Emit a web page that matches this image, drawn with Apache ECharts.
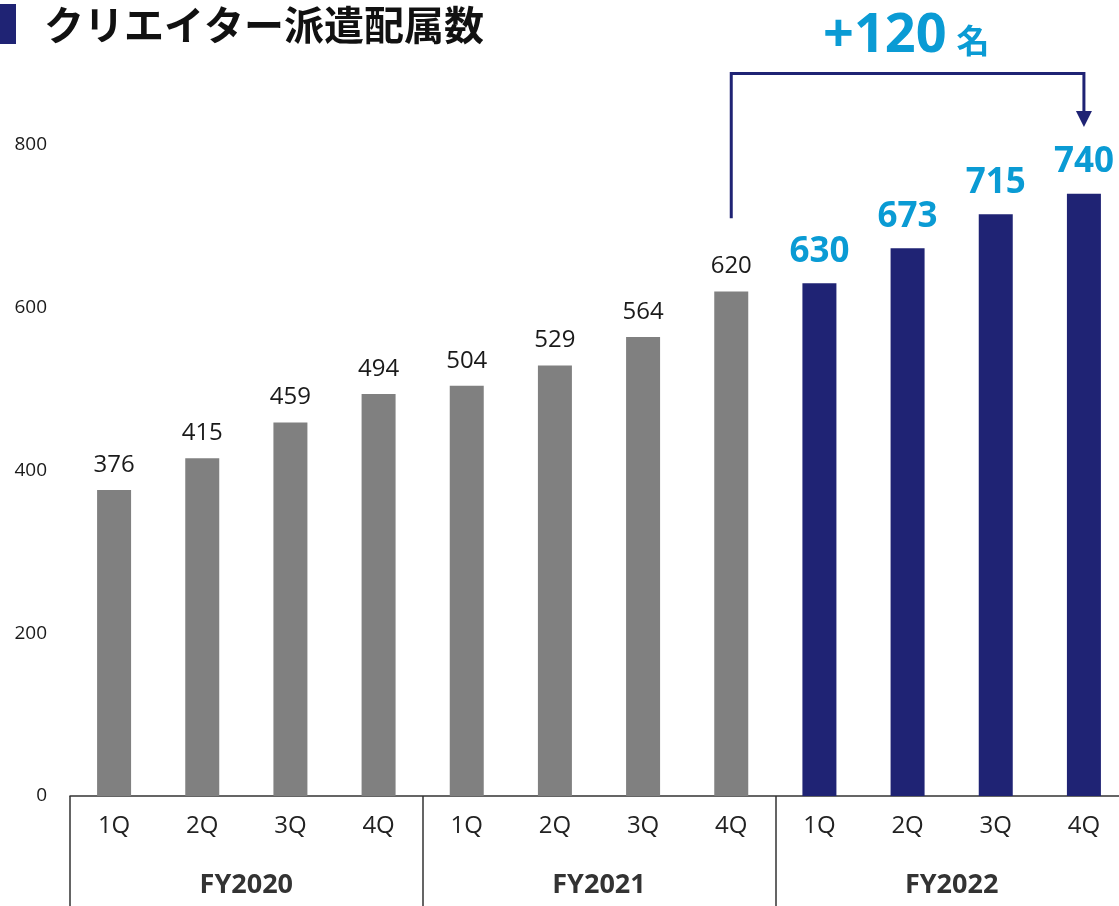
<!DOCTYPE html>
<html>
<head>
<meta charset="utf-8">
<script src="https://cdn.jsdelivr.net/npm/echarts@6/dist/echarts.min.js"></script>
<style>
html,body{margin:0;padding:0;background:#fff;}
#chart{width:1119px;height:906px;}
</style>
</head>
<body>
<div id="chart"></div>
<script>
const titleText = 'クリエイター派遣配属数';
const quarters = ['1Q','2Q','3Q','4Q','1Q','2Q','3Q','4Q','1Q','2Q','3Q','4Q'];
const fiscalYears = ['FY2020','FY2021','FY2022'];
const values = [376,415,459,494,504,529,564,620,630,673,715,740];
const highlightStart = 8;
const yMin = 0, yMax = 800, yInterval = 200;
const increaseNumber = '+120';
const increaseUnit = '名';
const bracketFromIndex = 7, bracketToIndex = 11;
const bracketBottomValue = 710, bracketTopValue = 888, arrowTipValue = 822;

const GRAY = '#808080', NAVY = '#1f2374', CYAN = '#0a9bd4';
const NUM_FONT = '"Open Sans","Noto Sans",sans-serif';
const JP_FONT = '"Noto Sans CJK JP","Noto Sans",sans-serif';

const chart = echarts.init(document.getElementById('chart'));

const barData = values.map((v, i) => {
  const hi = i >= highlightStart;
  return {
    value: v,
    itemStyle: { color: hi ? NAVY : GRAY },
    label: hi ? {
      show: true, position: 'top', distance: 14,
      fontSize: 35, fontWeight: 'bold', color: CYAN, fontFamily: NUM_FONT
    } : {
      show: true, position: 'top', distance: 13,
      fontSize: 24, color: '#1a1a1a', fontFamily: NUM_FONT
    }
  };
});

chart.setOption({
  animation: false,
  grid: { left: 70, top: 145, width: 1058, height: 651, outerBoundsMode: 'none', containLabel: false },
  xAxis: [{
    type: 'category', data: quarters, position: 'bottom',
    axisLine: { show: true, lineStyle: { color: '#333', width: 1.5 } },
    axisTick: { show: false },
    axisLabel: { margin: 18, fontSize: 24, color: '#222', fontFamily: NUM_FONT }
  }, {
    type: 'category', data: fiscalYears, position: 'bottom',
    axisLine: { show: false },
    axisTick: { show: true, length: 110, lineStyle: { color: '#333', width: 1.5 } },
    axisLabel: { margin: 76, fontSize: 27, fontWeight: 'bold', color: '#333', fontFamily: NUM_FONT }
  }],
  yAxis: {
    type: 'value', min: yMin, max: yMax, interval: yInterval,
    axisLine: { show: false }, axisTick: { show: false }, splitLine: { show: false },
    axisLabel: { margin: 23, fontSize: 19, color: '#1a1a1a', fontFamily: NUM_FONT }
  },
  series: [{
    type: 'bar', xAxisIndex: 0, yAxisIndex: 0,
    barWidth: 34, data: barData
  }]
});

const pA = chart.convertToPixel({ seriesIndex: 0 }, [bracketFromIndex, bracketBottomValue]);
const pB = chart.convertToPixel({ seriesIndex: 0 }, [bracketFromIndex, bracketTopValue]);
const pC = chart.convertToPixel({ seriesIndex: 0 }, [bracketToIndex, bracketTopValue]);
const pD = chart.convertToPixel({ seriesIndex: 0 }, [bracketToIndex, arrowTipValue]);
const headLen = 16, headHalf = 8;
const midX = (pB[0] + pC[0]) / 2;

chart.setOption({
  graphic: [
    { type: 'rect', shape: { x: 0, y: 4, width: 16, height: 40 }, style: { fill: NAVY } },
    { type: 'text', x: 44, y: 25,
      style: { text: titleText, font: 'bold 40px ' + JP_FONT, fill: '#111', verticalAlign: 'middle', align: 'left' } },
    { type: 'polyline',
      shape: { points: [[pA[0], pA[1]], [pB[0], pB[1]], [pC[0], pC[1]], [pD[0], pD[1] - headLen]] },
      style: { stroke: NAVY, lineWidth: 3, fill: null } },
    { type: 'polygon',
      shape: { points: [[pD[0] - headHalf, pD[1] - headLen], [pD[0] + headHalf, pD[1] - headLen], [pD[0], pD[1]]] },
      style: { fill: NAVY } },
    { type: 'text', x: midX + 39, y: 37,
      style: { text: increaseNumber, font: 'bold 54px ' + NUM_FONT, fill: CYAN, align: 'right', verticalAlign: 'middle' } },
    { type: 'text', x: midX + 49, y: 40,
      style: { text: increaseUnit, font: 'bold 33px ' + JP_FONT, fill: CYAN, align: 'left', verticalAlign: 'middle' } }
  ]
});
</script>
</body>
</html>
